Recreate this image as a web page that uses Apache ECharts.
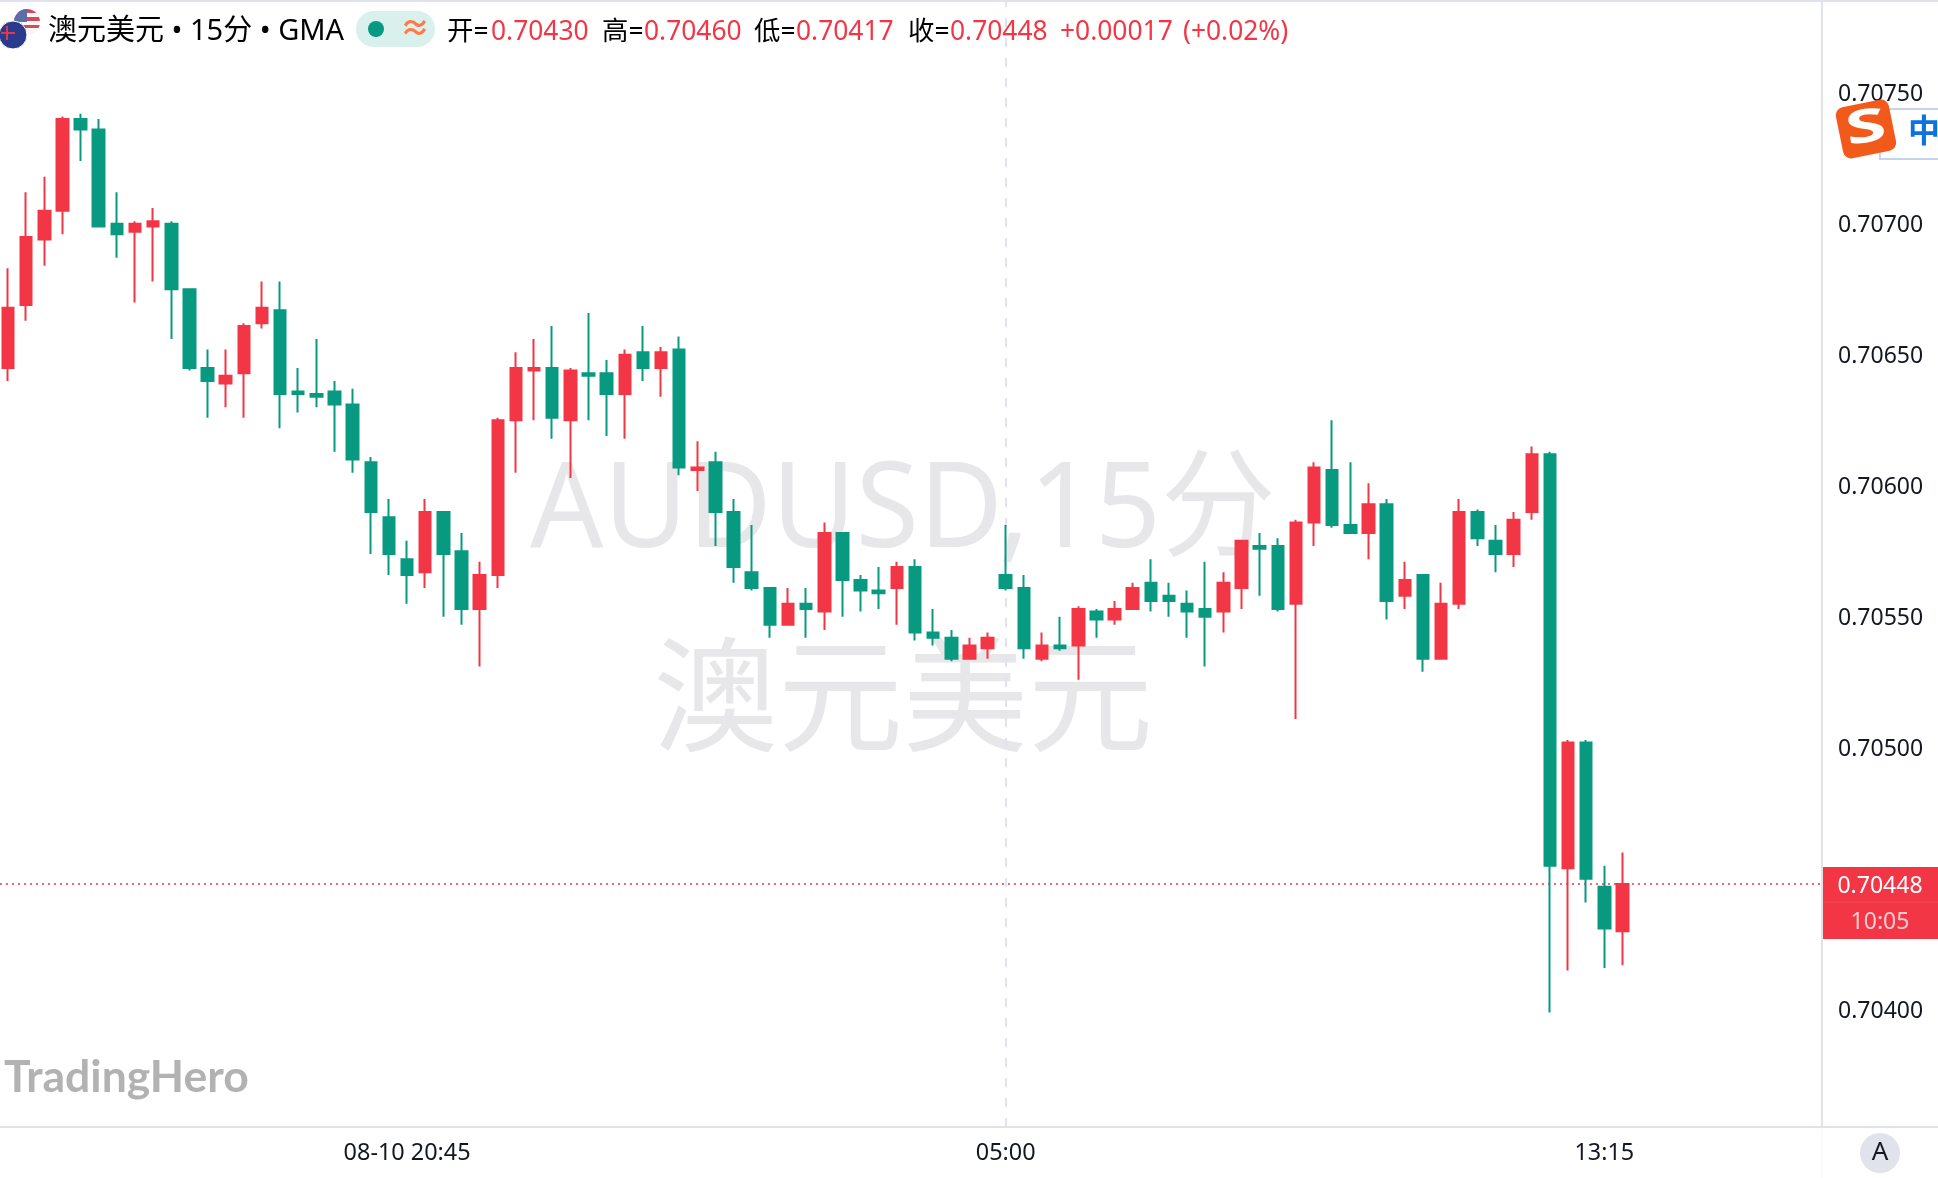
<!DOCTYPE html>
<html><head><meta charset="utf-8">
<style>html,body{margin:0;padding:0;background:#fff;overflow:hidden}#c{width:1938px;height:1178px}</style>
<script src="https://cdn.jsdelivr.net/npm/echarts@6/dist/echarts.min.js"></script>
</head><body><div id="c"></div>
<script>
const times = ['15:15','15:30','15:45','16:00','16:15','16:30','16:45','17:00','17:15','17:30','17:45','18:00','18:15','18:30','18:45','19:00','19:15','19:30','19:45','20:00','20:15','20:30','08-10 20:45','21:00','21:15','21:30','21:45','22:00','22:15','22:30','22:45','23:00','23:15','23:30','23:45','00:00','00:15','00:30','00:45','01:00','01:15','01:30','01:45','02:00','02:15','02:30','02:45','03:00','03:15','03:30','03:45','04:00','04:15','04:30','04:45','05:00','05:15','05:30','05:45','06:00','06:15','06:30','06:45','07:00','07:15','07:30','07:45','08:00','08:15','08:30','08:45','09:00','09:15','09:30','09:45','10:00','10:15','10:30','10:45','11:00','11:15','11:30','11:45','12:00','12:15','12:30','12:45','13:00','13:15','13:30'];
const opens = [0.70645,0.70669,0.70694,0.70705,0.70740,0.70736,0.70700,0.70697,0.70699,0.70700,0.70675,0.70645,0.70639,0.70643,0.70662,0.70667,0.70636,0.70635,0.70636,0.70631,0.70609,0.70588,0.70572,0.70567,0.70590,0.70575,0.70553,0.70566,0.70625,0.70644,0.70645,0.70625,0.70643,0.70643,0.70635,0.70651,0.70645,0.70652,0.70606,0.70609,0.70590,0.70567,0.70561,0.70547,0.70555,0.70552,0.70582,0.70564,0.70560,0.70561,0.70569,0.70544,0.70542,0.70534,0.70538,0.70566,0.70561,0.70534,0.70539,0.70539,0.70552,0.70549,0.70553,0.70563,0.70558,0.70555,0.70553,0.70552,0.70561,0.70577,0.70577,0.70555,0.70586,0.70606,0.70585,0.70582,0.70593,0.70558,0.70566,0.70534,0.70555,0.70590,0.70579,0.70574,0.70590,0.70612,0.70454,0.70502,0.70447,0.70430];
const closes = [0.70668,0.70695,0.70705,0.70740,0.70736,0.70699,0.70696,0.70700,0.70701,0.70675,0.70645,0.70640,0.70642,0.70661,0.70668,0.70635,0.70635,0.70634,0.70631,0.70610,0.70590,0.70574,0.70566,0.70590,0.70574,0.70553,0.70566,0.70625,0.70645,0.70645,0.70626,0.70644,0.70642,0.70635,0.70650,0.70645,0.70651,0.70607,0.70607,0.70590,0.70569,0.70561,0.70547,0.70555,0.70553,0.70582,0.70564,0.70560,0.70559,0.70569,0.70544,0.70542,0.70534,0.70539,0.70542,0.70561,0.70538,0.70539,0.70538,0.70553,0.70549,0.70553,0.70561,0.70556,0.70556,0.70552,0.70550,0.70563,0.70579,0.70576,0.70553,0.70586,0.70607,0.70585,0.70582,0.70593,0.70556,0.70564,0.70534,0.70555,0.70590,0.70580,0.70574,0.70587,0.70612,0.70455,0.70502,0.70450,0.70431,0.70448];
const lows = [0.70640,0.70663,0.70684,0.70696,0.70724,0.70699,0.70687,0.70670,0.70678,0.70656,0.70644,0.70626,0.70630,0.70626,0.70660,0.70622,0.70628,0.70630,0.70613,0.70605,0.70574,0.70566,0.70555,0.70561,0.70550,0.70547,0.70531,0.70561,0.70605,0.70625,0.70618,0.70603,0.70625,0.70619,0.70618,0.70640,0.70634,0.70604,0.70598,0.70577,0.70563,0.70560,0.70542,0.70547,0.70542,0.70545,0.70550,0.70552,0.70553,0.70547,0.70541,0.70539,0.70533,0.70534,0.70534,0.70560,0.70534,0.70533,0.70537,0.70526,0.70542,0.70547,0.70553,0.70552,0.70550,0.70542,0.70531,0.70544,0.70553,0.70558,0.70552,0.70511,0.70577,0.70584,0.70582,0.70572,0.70549,0.70553,0.70529,0.70534,0.70553,0.70577,0.70567,0.70569,0.70587,0.70399,0.70415,0.70441,0.70416,0.70417];
const highs = [0.70683,0.70712,0.70718,0.70741,0.70742,0.70740,0.70712,0.70701,0.70706,0.70701,0.70675,0.70652,0.70652,0.70662,0.70678,0.70678,0.70645,0.70656,0.70640,0.70637,0.70611,0.70595,0.70579,0.70595,0.70590,0.70582,0.70571,0.70626,0.70651,0.70656,0.70661,0.70645,0.70666,0.70648,0.70652,0.70661,0.70653,0.70657,0.70617,0.70613,0.70595,0.70585,0.70561,0.70561,0.70561,0.70586,0.70582,0.70566,0.70569,0.70571,0.70572,0.70553,0.70545,0.70542,0.70544,0.70585,0.70566,0.70544,0.70550,0.70554,0.70553,0.70556,0.70563,0.70572,0.70563,0.70560,0.70571,0.70567,0.70579,0.70582,0.70580,0.70587,0.70609,0.70625,0.70609,0.70601,0.70595,0.70571,0.70566,0.70563,0.70595,0.70591,0.70585,0.70590,0.70615,0.70613,0.70503,0.70503,0.70455,0.70460];
const shownPriceTicks = [0.704,0.705,0.7055,0.706,0.7065,0.707,0.7075];
const lastClose = 0.70448;
const sessionBreak = '05:00';
const timeTicks = ['08-10 20:45','05:00','13:15'];
const countdown = '10:05';
const symbolTitle = '澳元美元 • 15分 • GMA';
const ohlcLabels = ['开=','高=','低=','收='];
const ohlcValues = ['0.70430','0.70460','0.70417','0.70448'];
const changeText = ['+0.00017','(+0.02%)'];
const watermark = ['AUDUSD,15分','澳元美元'];

const UP='#f23645', DOWN='#089981', INK='#131722', LINE='#e0e3eb';
const F='"Noto Sans","Noto Sans CJK SC",sans-serif';
const categories=[...times,...Array(11).fill(' ')];
const candles=times.map((_,i)=>[opens[i],closes[i],lows[i],highs[i]]);
const txt=(text,x,y,font,fill,align,extra)=>Object.assign({type:'text',z:20,silent:true,style:{text,x,y,font,fill,textAlign:align||'left',textVerticalAlign:'middle'}},extra||{});
const hdr=[];
hdr.push({type:'circle',z:20,shape:{cx:27,cy:22,r:13},style:{fill:{type:'linear',x:0,y:0,x2:0,y2:1,colorStops:[0,.15,.15,.3,.3,.45,.45,.6,.6,.75,.75,1].map((o,i)=>({offset:o,color:['#d8485a','#d8485a','#f7f7f7','#f7f7f7'][i%4]}))}}});
hdr.push({type:'sector',z:20,shape:{cx:27,cy:22,r:13,r0:0,startAngle:Math.PI,endAngle:Math.PI*1.5},style:{fill:'#5a6ea8'}});
hdr.push({type:'circle',z:21,shape:{cx:13,cy:35,r:14},style:{fill:'#2a3a8c',stroke:'#fff',lineWidth:1}});
hdr.push({type:'line',z:21,shape:{x1:1,y1:33,x2:15,y2:33},style:{stroke:'#e0394a',lineWidth:2}});
hdr.push({type:'line',z:21,shape:{x1:7,y1:26,x2:7,y2:40},style:{stroke:'#e0394a',lineWidth:2}});
hdr.push(txt(symbolTitle,48,32,'29px '+F,'#000'));
hdr.push({type:'rect',z:20,shape:{x:356,y:11,width:79,height:36,r:18},style:{fill:'#d9f0ec'}});
hdr.push({type:'circle',z:21,shape:{cx:376,cy:29,r:8},style:{fill:DOWN}});
hdr.push(txt('≈',415,29,'bold 30px '+F,'#ff7a45','center'));
const lx=[447,602,754,908], vx=[491,644,796,950];
ohlcLabels.forEach((t,i)=>{hdr.push(txt(t,lx[i],32,'26.4px '+F,'#000'));hdr.push(txt(ohlcValues[i],vx[i],32,'26.4px '+F,UP));});
hdr.push(txt(changeText[0],1060,32,'26.4px '+F,UP));
hdr.push(txt(changeText[1],1183,32,'26.4px '+F,UP));

const chrome=[
 {type:'line',z:3,shape:{x1:0,y1:1,x2:1938,y2:1},style:{stroke:LINE,lineWidth:2}},
 {type:'line',z:3,shape:{x1:1822,y1:0,x2:1822,y2:1127},style:{stroke:LINE,lineWidth:2}},
 {type:'line',z:3,shape:{x1:0,y1:1127,x2:1938,y2:1127},style:{stroke:LINE,lineWidth:2}},
 {type:'line',z:3,shape:{x1:1822,y1:1128,x2:1822,y2:1178},style:{stroke:'#f5f6f9',lineWidth:1}},
 {type:'text',z:0,silent:true,x:903,y:513,scaleX:0.975,style:{text:watermark[0],font:'118px '+F,fill:'#e7e7e9',textAlign:'center',textVerticalAlign:'middle'}},
 {type:'text',z:0,silent:true,style:{text:watermark[1],x:903,y:706,font:'125px '+F,fill:'#e7e7e9',textAlign:'center',textVerticalAlign:'middle'}},
 txt('TradingHero',4,1078,'bold 44.5px Lato,'+F,'#b2b2b2'),
 {type:'rect',z:20,shape:{x:1823,y:867,width:115,height:72},style:{fill:UP}},
 {type:'line',z:21,shape:{x1:1823,y1:902,x2:1938,y2:902},style:{stroke:'#f4475a',lineWidth:1}},
 txt(ohlcValues[3],1880,886,'23px '+F,'#fff','center'),
 txt(countdown,1880,922,'23px '+F,'rgba(255,255,255,0.75)','center'),
 {type:'circle',z:20,shape:{cx:1880,cy:1153,r:20},style:{fill:LINE}},
 txt('A',1880,1153,'26px '+F,INK,'center'),
 {type:'rect',z:22,shape:{x:1880,y:109,width:70,height:50},style:{fill:'#fff',stroke:'#c3d4ec',lineWidth:2}},
 txt('中',1908,133,'bold 32px '+F,'#0a73e0','left',{z:23}),
 {type:'rect',z:24,x:1866,y:129,rotation:0.2,shape:{x:-27,y:-26,width:54,height:52,r:8},style:{fill:'#f25a1c'}},
 {type:'text',z:25,x:1866,y:129,rotation:0.15,scaleX:1.6,silent:true,style:{text:'S',font:'bold 46px '+F,fill:'#fff',textAlign:'center',textVerticalAlign:'middle'}}
];
const chart=echarts.init(document.getElementById('c'),null,{renderer:'canvas'});
chart.setOption({
 animation:false,backgroundColor:'#fff',
 grid:{left:8,top:2,width:1814,height:1125,containLabel:false},
 xAxis:{type:'category',data:categories,boundaryGap:false,containShape:false,
  axisLine:{show:false},axisTick:{show:false},splitLine:{show:false},
  axisLabel:{interval:(i,v)=>timeTicks.includes(v),margin:15,fontFamily:F,fontSize:23.4,color:INK,hideOverlap:false}},
 yAxis:{type:'value',position:'right',min:0.70355267,max:0.70784656,
  axisLine:{show:false},axisTick:{show:false},splitLine:{show:false},
  axisLabel:{customValues:shownPriceTicks,margin:16,formatter:v=>'{p|'+v.toFixed(5)+'}',
   rich:{p:{fontFamily:F,fontSize:23,color:INK,padding:[4,0,0,0]}}}},
 series:[{type:'candlestick',data:candles,barWidth:12,z:2,clip:false,
  itemStyle:{color:UP,color0:DOWN,borderColor:UP,borderColor0:DOWN,borderWidth:2},
  markLine:{silent:true,symbol:'none',z:1,label:{show:false},
   data:[{xAxis:sessionBreak,lineStyle:{color:LINE,type:[9,11],width:2}},
         [{x:0,yAxis:lastClose,lineStyle:{color:UP,type:[2,4],width:1.5}},{x:1822,yAxis:lastClose}]]}}],
 graphic:[...chrome,...hdr]
});
</script></body></html>
